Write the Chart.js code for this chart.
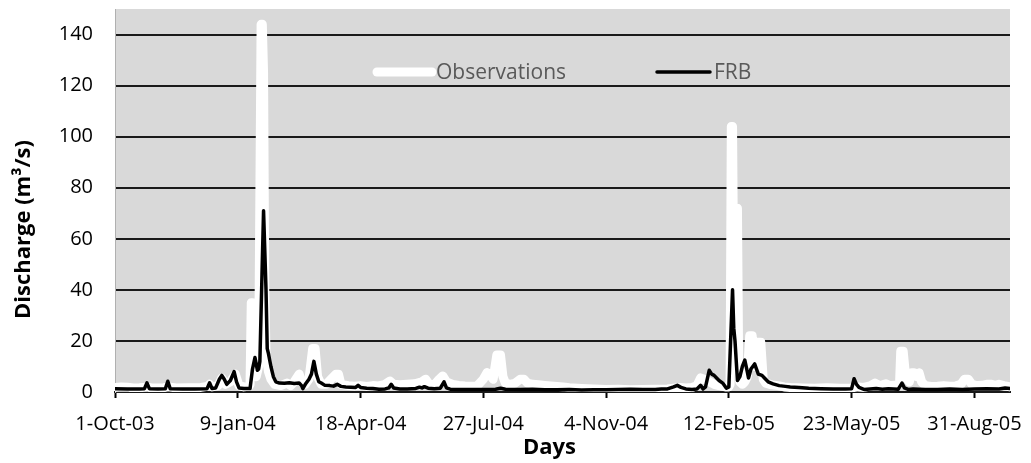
<!DOCTYPE html>
<html>
<head>
<meta charset="utf-8">
<script src="https://cdn.jsdelivr.net/npm/chart.js@4.4.1/dist/chart.umd.min.js"></script>
<style>
  html, body { margin: 0; padding: 0; background: #ffffff; }
  #wrap { width: 1031px; height: 463px; }
</style>
</head>
<body>
<div id="wrap"><canvas id="chart" width="1031" height="463"></canvas></div>
<script>
// Daily discharge, day index counted from 1-Oct-03
const xTickLabels = ['1-Oct-03', '9-Jan-04', '18-Apr-04', '27-Jul-04', '4-Nov-04', '12-Feb-05', '23-May-05', '31-Aug-05'];
const yTickValues = [0, 20, 40, 60, 80, 100, 120, 140];
const xAxisTitle = 'Days';
const yAxisTitle = 'Discharge (m³/s)';

const obsDays = [
  0, 5, 10, 15, 20, 26, 30, 40, 43, 50, 60, 70, 75, 77, 79, 84, 87, 90, 94, 98,
  101, 105, 109, 110, 111, 112, 113, 115, 117, 119, 120, 121, 122, 123, 125, 127, 130, 135, 140, 143,
  146, 150, 152, 155, 158, 161, 163, 165, 168, 172, 176, 180, 182, 184, 190, 195, 200, 205, 210, 215,
  220, 224, 227, 232, 238, 244, 250, 253, 256, 260, 264, 267, 270, 275, 280, 285, 290, 295, 300, 303,
  305, 308, 311, 314, 316, 318, 322, 326, 330, 333, 336, 340, 345, 350, 355, 360, 365, 370, 380, 390,
  400, 410, 420, 430, 440, 450, 455, 460, 465, 470, 474, 477, 480, 484, 488, 492, 497, 500, 501, 502,
  503, 504, 505, 507, 508, 509, 511, 513, 515, 517, 519, 521, 523, 526, 528, 530, 535, 540, 545, 550,
  555, 560, 570, 580, 590, 600, 605, 610, 615, 619, 622, 625, 628, 631, 635, 639, 640, 642, 644, 647,
  649, 651, 653, 655, 657, 660, 665, 670, 675, 680, 685, 689, 692, 695, 698, 702, 706, 710, 714, 717,
  720, 724, 729
];
const obsValues = [
  1.8, 2.0, 1.9, 1.6, 1.7, 1.9, 1.6, 1.7, 2.0, 1.6, 1.7, 1.8, 2.2, 3.0, 2.0, 2.5, 5.5, 3.0, 4.0, 7.0,
  2.5, 2.0, 2.2, 3.0, 35, 35, 8, 6, 10, 144, 144, 125, 40, 15, 8, 5, 3, 2.5, 3.5, 2.5,
  4, 7, 4, 3, 5, 17, 17, 6, 3, 3, 5, 7, 7, 3, 2.5, 2.3, 2.5, 2.2, 2.5, 2.4,
  3, 4.3, 3, 2.8, 3, 3.2, 4, 5, 3, 2.8, 5, 6.3, 4, 3, 2.6, 2.4, 2.3, 2.4, 5, 7.6,
  7, 5, 14.5, 14.5, 6, 3.5, 3, 3.5, 5, 5, 3.5, 3, 2.8, 2.6, 2.4, 2.2, 2, 1.7, 1.4, 1.2,
  1.0, 1.1, 0.9, 1.0, 1.1, 1.2, 1.5, 1.8, 1.6, 1.8, 2.5, 5.5, 5, 4, 3, 2.5, 2, 2, 3, 104,
  104, 40, 72, 72, 10, 4, 3, 4, 6, 22, 22, 10, 19.5, 19.5, 5, 3.5, 2.8, 2.5, 2, 1.8,
  1.7, 1.6, 1.5, 1.7, 1.5, 1.6, 2, 1.8, 2.4, 3.5, 2.6, 2.8, 3.2, 2.5, 2.6, 3, 16, 16, 6, 4,
  7.5, 7.5, 6, 7.5, 4, 2.5, 2.2, 2.3, 2.5, 2.3, 2.4, 3, 5, 5, 3, 2.5, 2.6, 3, 3, 2.6,
  3, 2.5, 2
];

const frbDays = [
  0, 10, 20, 24, 26, 28, 35, 41, 43, 45, 55, 65, 75, 77, 79, 82, 85, 87, 89, 91,
  94, 97, 99, 101, 105, 110, 112, 114, 115, 116, 117, 118, 121, 123, 124, 125, 127, 129, 131, 134,
  138, 142, 146, 150, 152, 153, 155, 158, 160, 162, 164, 166, 168, 171, 175, 178, 181, 184, 188, 192,
  196, 198, 200, 205, 210, 215, 220, 223, 225, 227, 232, 238, 245, 248, 250, 252, 255, 260, 265, 268,
  270, 273, 280, 290, 300, 310, 314, 318, 330, 340, 350, 360, 370, 380, 390, 400, 410, 420, 430, 440,
  445, 450, 455, 458, 461, 465, 470, 474, 477, 479, 481, 484, 486, 488, 490, 492, 495, 498, 500, 503,
  504, 505, 507, 509, 511, 513, 515, 516, 518, 521, 524, 527, 529, 532, 536, 541, 546, 550, 557, 565,
  575, 585, 595, 600, 602, 604, 606, 610, 615, 620, 625, 630, 638, 641, 643, 646, 650, 655, 660, 670,
  680, 690, 700, 710, 720, 725, 729
];
const frbValues = [
  1.3, 1.2, 1.2, 1.3, 3.6, 1.3, 1.2, 1.3, 4.2, 1.3, 1.2, 1.2, 1.3, 3.6, 1.4, 1.6, 5, 6.5, 5, 3,
  4.5, 8, 4, 1.6, 1.4, 1.4, 9, 13.5, 11, 8.5, 9, 12, 71, 40, 17, 15, 10, 6, 4, 3.5,
  3.4, 3.6, 3.3, 3.5, 2.5, 1.3, 3, 5, 7, 12, 7, 4, 3.5, 2.6, 2.5, 2.3, 3, 2.2, 2, 1.9,
  1.8, 2.6, 1.8, 1.5, 1.4, 1.1, 1.2, 1.6, 3, 1.6, 1.2, 1.2, 1.4, 1.9, 1.6, 2.1, 1.5, 1.3, 1.5, 4,
  1.6, 1.1, 1.0, 1.0, 1.0, 1.1, 1.5, 1.1, 1.0, 1.1, 0.9, 0.9, 1.0, 0.8, 0.9, 0.9, 1.0, 1.1, 1.0, 1.0,
  1.2, 1.2, 2, 2.6, 1.8, 1.2, 1.0, 1.2, 2.6, 1.2, 2, 8.5, 7, 6.5, 5.5, 4.5, 3.5, 1.5, 2, 40,
  25, 20, 4.5, 6, 10, 12.5, 8, 5.5, 9, 11, 7, 6.5, 5.5, 4, 3.2, 2.5, 2.2, 2, 1.8, 1.5,
  1.3, 1.2, 1.2, 1.3, 5.2, 3, 1.8, 1, 1.2, 1.4, 1.1, 1.3, 1.1, 3.5, 1.6, 1, 1.2, 1.1, 1.0, 1.0,
  1.2, 1.0, 1.2, 1.3, 1.2, 1.6, 1.4
];

const toPoints = (days, values) => days.map((d, i) => ({ x: d, y: values[i] }));

const FONT = "'Open Sans', 'Liberation Sans', sans-serif";

// Grey plot-area fill behind the grid
const plotBackground = {
  id: 'plotBackground',
  beforeDraw(chart) {
    const { ctx, chartArea: a } = chart;
    ctx.save();
    ctx.fillStyle = '#d9d9d9';
    ctx.fillRect(a.left, a.top, a.right - a.left, a.bottom - a.top);
    ctx.restore();
  }
};

// Legend drawn inside the plot area, one row
const innerLegend = {
  id: 'innerLegend',
  afterDraw(chart) {
    const { ctx, chartArea: a } = chart;
    const items = [
      { ds: chart.data.datasets[1], x0: a.left + 262, x1: a.left + 317, tx: a.left + 321 },
      { ds: chart.data.datasets[0], x0: a.left + 542, x1: a.left + 595, tx: a.left + 599 }
    ];
    const y = a.top + 63;
    ctx.save();
    items.forEach(it => {
      ctx.beginPath();
      ctx.strokeStyle = it.ds.borderColor;
      ctx.lineWidth = it.ds.borderWidth;
      ctx.lineCap = 'round';
      ctx.moveTo(it.x0, y);
      ctx.lineTo(it.x1, y);
      ctx.stroke();
      ctx.fillStyle = '#595959';
      ctx.font = '21px ' + FONT;
      ctx.textBaseline = 'middle';
      ctx.textAlign = 'left';
      ctx.fillText(it.ds.label, it.tx, y + 1);
    });
    ctx.restore();
  }
};

// Axis titles
const axisTitles = {
  id: 'axisTitles',
  afterDraw(chart) {
    const { ctx, chartArea: a } = chart;
    ctx.save();
    ctx.fillStyle = '#000000';
    ctx.font = 'bold 22px ' + FONT;
    ctx.textAlign = 'center';
    ctx.textBaseline = 'middle';
    ctx.fillText(xAxisTitle, (a.left + a.right) / 2 - 13, a.bottom + 56);
    ctx.translate(24, (a.top + a.bottom) / 2 + 29);
    ctx.rotate(-Math.PI / 2);
    ctx.fillText(yAxisTitle, 0, 0);
    ctx.restore();
  }
};

new Chart(document.getElementById('chart'), {
  type: 'line',
  data: {
    datasets: [
      {
        label: 'FRB',
        data: toPoints(frbDays, frbValues),
        borderColor: '#000000',
        borderWidth: 3.5,
        borderJoinStyle: 'round',
        borderCapStyle: 'round',
        pointRadius: 0,
        tension: 0,
        order: 0
      },
      {
        label: 'Observations',
        data: toPoints(obsDays, obsValues),
        borderColor: '#ffffff',
        borderWidth: 9,
        borderJoinStyle: 'round',
        borderCapStyle: 'round',
        pointRadius: 0,
        tension: 0,
        order: 1
      }
    ]
  },
  options: {
    responsive: false,
    animation: false,
    events: [],
    layout: { padding: { top: 9, right: 21, left: 0, bottom: 0 } },
    plugins: {
      legend: { display: false },
      tooltip: { enabled: false }
    },
    scales: {
      x: {
        type: 'linear',
        min: 0,
        max: 729,
        afterBuildTicks(scale) {
          scale.ticks = xTickLabels.map((_, i) => ({ value: i * 100 }));
        },
        afterFit(scale) {
          scale.height = 71;
          scale.paddingLeft = 0;
          scale.paddingRight = 0;
        },
        ticks: {
          autoSkip: false,
          maxRotation: 0,
          padding: 14,
          color: '#000000',
          font: { family: FONT, size: 20 },
          callback: v => xTickLabels[Math.round(v / 100)]
        },
        grid: {
          drawOnChartArea: false,
          drawTicks: true,
          tickLength: 6,
          tickWidth: 2,
          tickColor: '#000000'
        },
        border: { display: true, color: '#1a1a1a', width: 2 }
      },
      y: {
        min: 0,
        max: 150,
        afterBuildTicks(scale) {
          scale.ticks = yTickValues.map(v => ({ value: v }));
        },
        afterFit(scale) {
          scale.width = 115;
          scale.paddingTop = 0;
          scale.paddingBottom = 0;
        },
        ticks: {
          padding: 22,
          color: '#000000',
          font: { family: FONT, size: 20 }
        },
        grid: {
          drawTicks: false,
          color: '#1a1a1a',
          lineWidth: 2
        },
        border: { display: true, color: '#b0b0b0', width: 1 }
      }
    }
  },
  plugins: [plotBackground, innerLegend, axisTitles]
});
</script>
</body>
</html>
